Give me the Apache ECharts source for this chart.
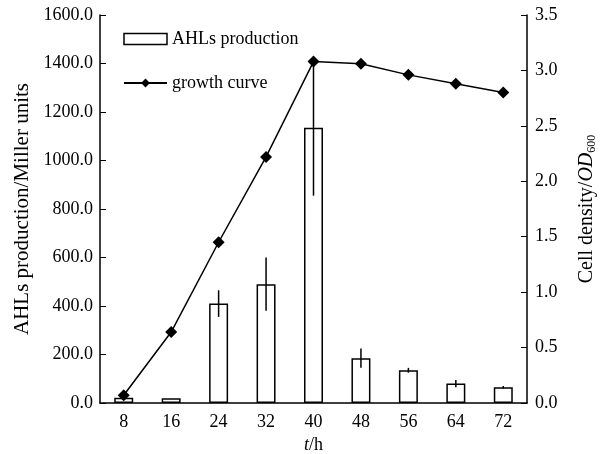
<!DOCTYPE html>
<html><head><meta charset="utf-8">
<script src="https://cdn.jsdelivr.net/npm/echarts@6/dist/echarts.min.js"></script>
<style>html,body{margin:0;padding:0;background:#fff}#c{width:605px;height:454px}</style>
</head><body><div id="c"></div>
<script>
const categories = ['8','16','24','32','40','48','56','64','72'];
const ahls = [22, 20, 410, 490, 1135, 185, 135, 80, 65];
const ahlsErr = [0, 0, 55, 110, 280, 40, 10, 15, 5];
const growth = [0.07, 0.64, 1.45, 2.22, 3.08, 3.06, 2.96, 2.88, 2.80];
const leftTicks = [0, 1600, 200];
const rightTicks = [0, 3.5, 0.5];

const font = 'Liberation Serif';
const chart = echarts.init(document.getElementById('c'));
chart.setOption({
  animation: false,
  textStyle: {fontFamily: font, color: '#000'},
  grid: {left: 100, right: 78, top: 15, bottom: 51, outerBoundsMode: 'none', containLabel: false},
  legend: {
    orient: 'vertical', left: 123, top: 30, padding: 0, itemGap: 26, itemWidth: 43, itemHeight: 11,
    textStyle: {fontFamily: font, fontSize: 18, color: '#000'},
    data: [
      {name: 'AHLs production', icon: 'rect', itemStyle: {color: '#fff', borderColor: '#000', borderWidth: 1.5}},
      {name: 'growth curve'}
    ]
  },
  xAxis: {
    type: 'category', data: categories,
    name: '{i|t}/h', nameLocation: 'middle', nameGap: 30,
    nameTextStyle: {fontFamily: font, fontSize: 18, color: '#000', rich: {i: {fontStyle: 'italic', fontFamily: font, fontSize: 18}}},
    axisLine: {lineStyle: {color: '#000', width: 1.5}},
    axisTick: {inside: true, length: 6, lineStyle: {color: '#000'}},
    axisLabel: {fontFamily: font, fontSize: 18, color: '#000', margin: 10}
  },
  yAxis: [
    {
      type: 'value', min: leftTicks[0], max: leftTicks[1], interval: leftTicks[2],
      name: 'AHLs production/Miller units', nameLocation: 'middle', nameGap: 67,
      nameTextStyle: {fontFamily: font, fontSize: 21, color: '#000'},
      axisLine: {show: true, lineStyle: {color: '#000', width: 1.5}},
      axisTick: {show: true, inside: true, length: 6, lineStyle: {color: '#000'}},
      axisLabel: {fontFamily: font, fontSize: 18, color: '#000', margin: 7, formatter: v => v.toFixed(1)},
      splitLine: {show: false}
    },
    {
      type: 'value', min: rightTicks[0], max: rightTicks[1], interval: rightTicks[2],
      name: 'Cell density/{i|OD}{s|600}', nameLocation: 'middle', nameGap: 49,
      nameTextStyle: {fontFamily: font, fontSize: 20, color: '#000',
        rich: {i: {fontStyle: 'italic', fontFamily: font, fontSize: 20}, s: {fontFamily: font, fontSize: 12, verticalAlign: 'bottom', padding: [10,0,0,0]}}},
      axisLine: {show: true, lineStyle: {color: '#000', width: 1.5}},
      axisTick: {show: true, inside: true, length: 6, lineStyle: {color: '#000'}},
      axisLabel: {fontFamily: font, fontSize: 18, color: '#000', margin: 8, formatter: v => v.toFixed(1)},
      splitLine: {show: false}
    }
  ],
  series: [
    {
      name: 'AHLs production', type: 'bar', data: ahls, barWidth: '40%', yAxisIndex: 0,
      itemStyle: {color: '#fff', borderColor: '#000', borderWidth: 1.5}
    },
    {
      name: 'err', type: 'custom', yAxisIndex: 0, z: 5,
      data: ahls.map((v, i) => [i, v - ahlsErr[i], v + ahlsErr[i]]),
      renderItem: (params, api) => {
        const lo = api.coord([api.value(0), api.value(1)]);
        const hi = api.coord([api.value(0), api.value(2)]);
        return {type: 'line', shape: {x1: lo[0], y1: lo[1], x2: hi[0], y2: hi[1]}, style: {stroke: '#000', lineWidth: 1.5}};
      }
    },
    {
      name: 'growth curve', type: 'line', data: growth, yAxisIndex: 1, z: 10,
      symbol: 'diamond', symbolSize: 12,
      lineStyle: {color: '#000', width: 1.5}, itemStyle: {color: '#000'}
    }
  ]
});
</script></body></html>
